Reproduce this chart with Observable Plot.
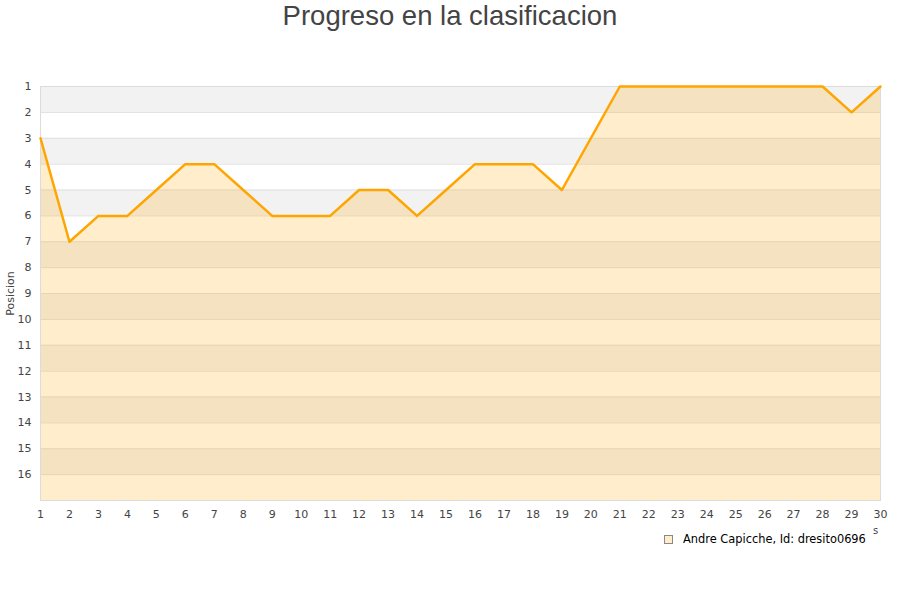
<!DOCTYPE html>
<html>
<head>
<meta charset="utf-8">
<script src="https://cdn.jsdelivr.net/npm/d3@7"></script>
<script src="https://cdn.jsdelivr.net/npm/@observablehq/plot@0.6"></script>
<style>
  body { margin: 0; background: #fff; font-family: "DejaVu Sans", sans-serif; }
  #wrap { position: relative; width: 900px; height: 600px; }
  #title { position: absolute; left: 0; top: 0; width: 900px; text-align: center; font-family: "Liberation Sans", Arial, sans-serif; font-size: 27.5px; color: #444; line-height: 32px; }
  #legend { position: absolute; left: 664px; top: 532px; font-size: 11.4px; color: #000; display: flex; align-items: center; }
  #legend .sw { width: 7px; height: 7px; border: 1px solid #888; background: #ffedcc; margin-right: 10px; }
  #stray { position: absolute; left: 873px; top: 525px; font-size: 10px; color: #444; }
</style>
</head>
<body>
<div id="wrap">
  <div id="title">Progreso en la clasificacion</div>
  <div id="chart"></div>
  <div id="legend"><div class="sw"></div><span id="serie"></span></div>
  <div id="stray">s</div>
</div>
<script>
const jornadas = [1,2,3,4,5,6,7,8,9,10,11,12,13,14,15,16,17,18,19,20,21,22,23,24,25,26,27,28,29,30];
const posiciones = [3,7,6,6,5,4,4,5,6,6,6,5,5,6,5,4,4,4,5,3,1,1,1,1,1,1,1,1,2,1];
const yTicks = [1,2,3,4,5,6,7,8,9,10,11,12,13,14,15,16];
const bandStarts = [1,3,5,7,9,11,13,15];
const gridLines = [1,2,3,4,5,6,7,8,9,10,11,12,13,14,15,16,17];
const serieNombre = "Andre Capicche, Id: dresito0696";

document.getElementById("serie").textContent = serieNombre;

const data = jornadas.map((j, i) => ({j, p: posiciones[i]}));
const bands = bandStarts.map(b => ({y1: b, y2: b + 1}));

const chart = Plot.plot({
  width: 900,
  height: 600,
  marginTop: 86,
  marginBottom: 100,
  marginLeft: 40,
  marginRight: 20,
  style: {fontFamily: "DejaVu Sans, sans-serif", fontSize: "11px", color: "#444", background: "transparent"},
  x: {domain: [1, 30], ticks: jornadas, tickFormat: d => String(d), tickSize: 0, tickPadding: 10, label: null},
  y: {domain: [1, 17], reverse: true, ticks: yTicks, tickSize: 0, tickPadding: 9, label: "Posicion", labelAnchor: "center", labelOffset: 34, labelArrow: "none"},
  marks: [
    Plot.rect(bands, {x1: 1, x2: 30, y1: "y1", y2: "y2", fill: "#f2f2f2"}),
    Plot.ruleY(gridLines, {stroke: "#e0e0e0", strokeWidth: 1}),
    Plot.areaY(data, {x: "j", y1: 17, y2: "p", fill: "#ffa500", fillOpacity: 0.2}),
    Plot.frame({stroke: "#dcdcdc"}),
    Plot.lineY(data, {x: "j", y: "p", stroke: "#ffa500", strokeWidth: 2.5})
  ]
});
document.getElementById("chart").appendChild(chart);
</script>
</body>
</html>
